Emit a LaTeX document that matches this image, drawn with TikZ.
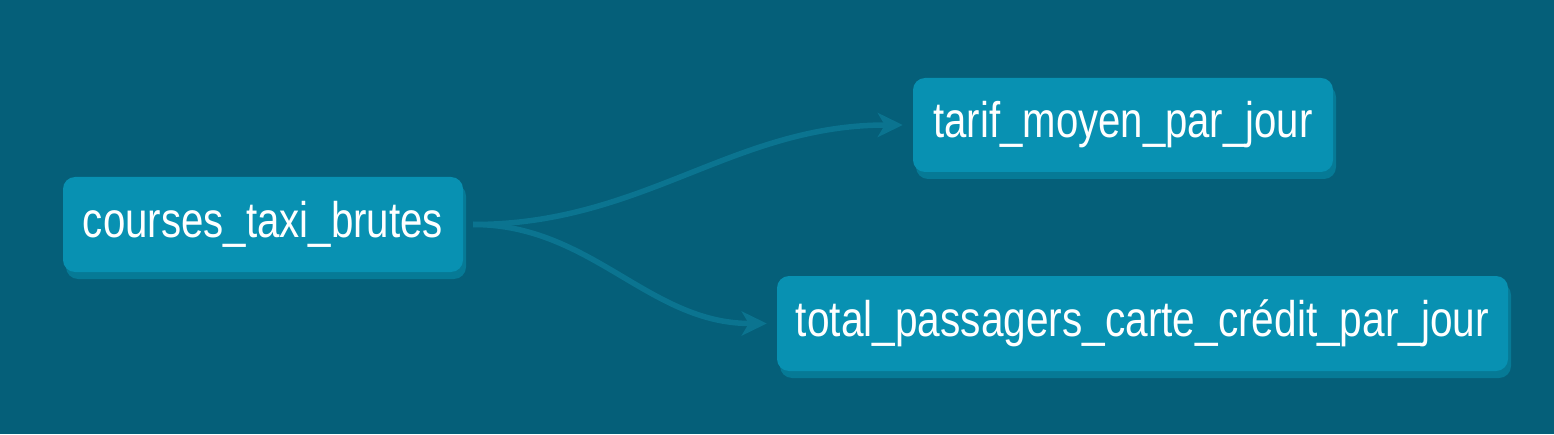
\documentclass[tikz,border=0pt]{standalone}
\usepackage{fontspec}
\setmainfont{Liberation Sans}
\usetikzlibrary{arrows.meta,shadows}
\definecolor{bgc}{HTML}{055F79}
\definecolor{nodefill}{HTML}{0891B2}
\definecolor{nodeshadow}{HTML}{067A96}
\definecolor{edgec}{HTML}{0B7490}
\tikzset{
  modelbox/.style={fill=nodefill, rounded corners=12pt, inner sep=0pt,
    minimum height=95pt, text=white,
    drop shadow={shadow xshift=3pt, shadow yshift=-7pt, fill=nodeshadow, opacity=1}},
  flow/.style={draw=edgec, line width=5.5pt,
    -{Stealth[length=25pt,width=24pt,inset=7pt]},
    shorten <=10pt, shorten >=10pt, out=0, in=180}
}
\newcommand{\lbl}[2]{\resizebox{#1}{\height}{\fontsize{50}{54}\selectfont #2}}
\begin{document}
\begin{tikzpicture}[x=1pt,y=1pt]
\fill[bgc] (0,0) rectangle (1554,434);
\useasboundingbox (0,0) rectangle (1554,434);
\node[modelbox, minimum width=400pt] (n1) at (263,209.5) {\lbl{360pt}{courses\_taxi\_brutes}};
\node[modelbox, minimum width=420pt, minimum height=94pt] (n2) at (1123,309) {\lbl{379pt}{tarif\_moyen\_par\_jour}};
\node[modelbox, minimum width=731pt] (n3) at (1142.5,110.5) {\lbl{693pt}{total\_passagers\_carte\_crédit\_par\_jour}};
\draw[flow] (n1.east) to (n2.west);
\draw[flow] (n1.east) to (n3.west);
\end{tikzpicture}
\end{document}
